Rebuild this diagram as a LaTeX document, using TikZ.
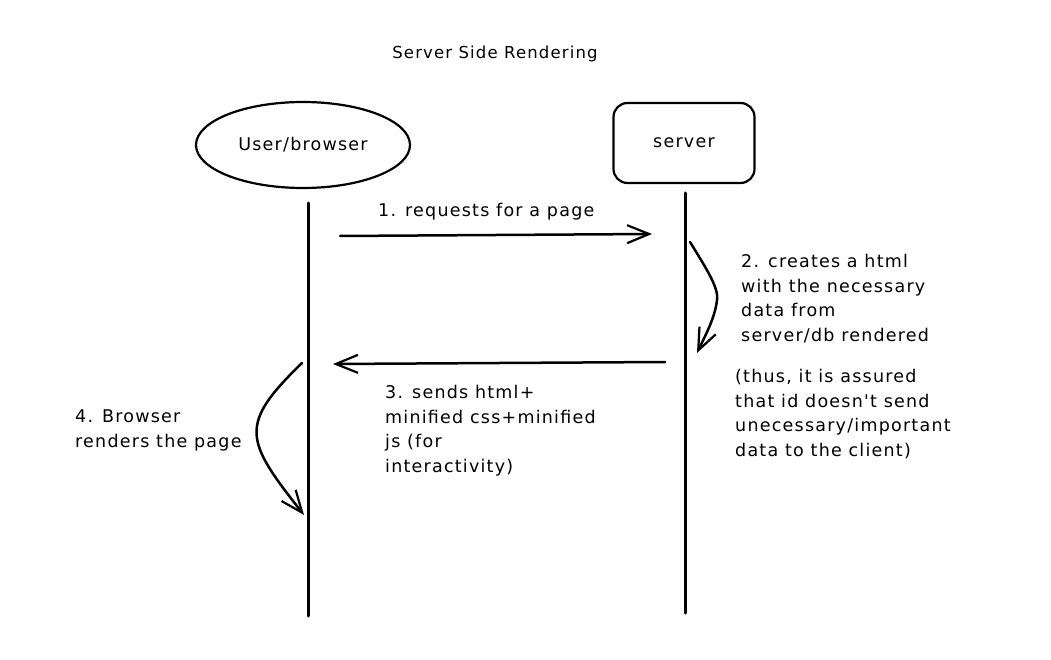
\documentclass[tikz,border=0pt]{standalone}
\usepackage{fontspec}
\setmainfont{DejaVu Sans}
\newfontfamily\hand{DejaVu Sans}[LetterSpace=7]
\usetikzlibrary{arrows.meta,shapes.geometric}
\tikzset{
  lbl/.style={font=\hand\fontsize{17.5}{24.6}\selectfont, align=left, anchor=north west, inner sep=0pt},
  life/.style={line width=3pt, line cap=round},
  msg/.style={line width=2.5pt, line cap=round, -{Straight Barb[length=22pt,width=18pt,line width=2.2pt]}},
  actor/.style={draw, line width=2.2pt, font=\hand\fontsize{17.5}{20}\selectfont},
}
\begin{document}
\begin{tikzpicture}[x=1pt,y=-1pt]
\useasboundingbox (0,0) rectangle (1051,660);
% title
\node[font=\hand\fontsize{16.5}{20}\selectfont, anchor=base, inner sep=0pt] (title) at (495,59) {Server Side Rendering};
% actors
\node[actor, ellipse, minimum width=214pt, minimum height=86pt] (user) at (303,145) {User/browser};
\node[actor, rectangle, rounded corners=14pt, minimum width=141pt, minimum height=80pt] (server) at (684,143) {server};
% lifelines
\coordinate (ut) at (308,203);
\coordinate (ub) at (308,616);
\coordinate (st) at (685,193);
\coordinate (sb) at (685,613);
\draw[life] (ut) -- (ub);
\draw[life] (st) -- (sb);
% message 1
\coordinate (m1a) at (340,236);
\coordinate (m1b) at (652,234);
\draw[msg] (m1a) -- (m1b);
\node[lbl, anchor=base west] (t1) at (378,217) {1. requests for a page};
% message 2 (self)
\coordinate (m2a) at (690,242);
\coordinate (m2b) at (697,353);
\draw[msg] (m2a) .. controls (706,268) and (719,288) .. (717,300) .. controls (715,318) and (705,336) .. (m2b);
\node[lbl] (t2) at (741,254) {2. creates a html\\with the necessary\\data from\\server/db rendered};
\node[lbl] (t2b) at (735,369) {(thus, it is assured\\that id doesn't send\\unecessary/important\\data to the client)};
% message 3
\coordinate (m3a) at (665,362);
\coordinate (m3b) at (333,364);
\draw[msg] (m3a) -- (m3b);
\node[lbl] (t3) at (385,385) {3. sends html+\\minified css+minified\\js (for\\interactivity)};
% message 4 (self)
\coordinate (m4a) at (302,363);
\coordinate (m4b) at (304,515);
\draw[msg] (m4a) .. controls (238,425) and (245,440) .. (m4b);
\node[lbl] (t4) at (75,410) {4. Browser\\renders the page};
\end{tikzpicture}
\end{document}
